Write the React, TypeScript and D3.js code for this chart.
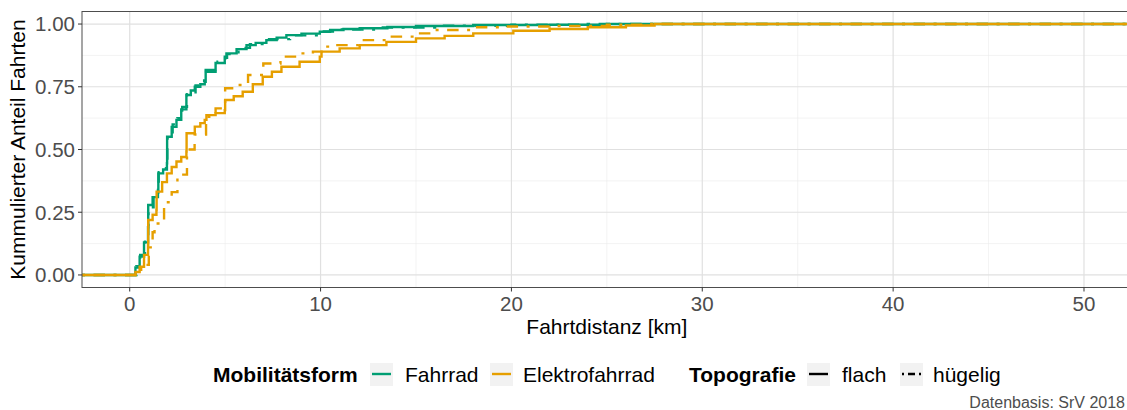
import * as d3 from 'd3';

// Kumulierte Verteilung (ECDF) der Fahrtdistanzen
const fahrradFlachKm = [0.09, 0.3, 0.52, 0.75, 0.96, 0.97, 1.2, 1.48, 1.5, 1.75, 1.95, 1.96, 2.2, 2.45, 2.7, 2.97, 3.2, 3.41, 3.7, 3.93, 3.98, 4.5, 4.98, 5.07, 5.6, 6.12, 6.6, 7.16, 7.7, 8.21, 9.0, 9.96, 10.5, 11.2, 12.05, 13.5, 15, 18, 22, 25];
const fahrradFlachAnteil = [0, 0.03, 0.073, 0.13, 0.19, 0.279, 0.31, 0.339, 0.405, 0.42, 0.445, 0.551, 0.59, 0.618, 0.66, 0.717, 0.735, 0.75, 0.76, 0.77, 0.817, 0.845, 0.87, 0.883, 0.9, 0.916, 0.925, 0.936, 0.946, 0.956, 0.962, 0.969, 0.976, 0.98, 0.983, 0.988, 0.992, 0.996, 0.997, 1];

const fahrradHuegeligKm = [0.1, 0.35, 0.55, 0.8, 0.97, 0.98, 1.25, 1.5, 1.52, 1.9, 1.97, 2.25, 2.5, 2.75, 3.0, 3.45, 3.9, 4.0, 4.6, 5.0, 5.1, 5.7, 6.3, 7.3, 8.4, 10.0, 11, 13, 16, 20, 24];
const fahrradHuegeligAnteil = [0, 0.035, 0.08, 0.14, 0.2, 0.27, 0.32, 0.35, 0.41, 0.45, 0.545, 0.6, 0.625, 0.67, 0.72, 0.755, 0.775, 0.81, 0.85, 0.865, 0.88, 0.905, 0.92, 0.94, 0.955, 0.97, 0.978, 0.986, 0.993, 0.997, 1];

const eFahrradFlachKm = [0.09, 0.3, 0.52, 0.75, 0.96, 0.97, 1.2, 1.4, 1.41, 1.7, 1.95, 2.2, 2.45, 2.7, 2.97, 2.98, 3.41, 3.7, 3.93, 4.02, 4.5, 4.98, 5.0, 5.45, 5.92, 6.45, 6.97, 7.45, 7.95, 8.9, 9.96, 10.05, 11, 12.05, 13.45, 15, 16.5, 18, 20.1, 22, 24, 26, 27.5];
const eFahrradFlachAnteil = [0, 0.012, 0.033, 0.08, 0.12, 0.219, 0.24, 0.259, 0.332, 0.37, 0.405, 0.43, 0.452, 0.47, 0.492, 0.565, 0.591, 0.605, 0.618, 0.637, 0.645, 0.657, 0.697, 0.712, 0.73, 0.76, 0.79, 0.81, 0.83, 0.85, 0.87, 0.89, 0.903, 0.916, 0.929, 0.943, 0.953, 0.963, 0.973, 0.98, 0.987, 0.994, 1];

const eFahrradHuegeligKm = [0.12, 0.6, 1.0, 1.2, 1.3, 1.75, 1.8, 2.2, 2.5, 3.0, 3.4, 4.0, 4.5, 4.95, 5.0, 5.5, 6.2, 7.0, 7.9, 8.9, 9.6, 10.05, 10.6, 12, 13.5, 15, 16, 18, 19.5, 22, 25, 27];
const eFahrradHuegeligAnteil = [0, 0.04, 0.11, 0.17, 0.205, 0.215, 0.29, 0.33, 0.4, 0.5, 0.56, 0.63, 0.664, 0.684, 0.744, 0.757, 0.797, 0.843, 0.87, 0.883, 0.89, 0.91, 0.916, 0.936, 0.95, 0.963, 0.976, 0.987, 0.99, 0.992, 0.997, 1];

const xTicks = [0, 10, 20, 30, 40, 50];
const yTicks = [0, 0.25, 0.5, 0.75, 1];

const farbe = { Fahrrad: '#009E73', Elektrofahrrad: '#E69F00' };
const dotdash = '3,8.5,11.5,8.5';

const series = [
  { form: 'Fahrrad', topo: 'flach', km: fahrradFlachKm, anteil: fahrradFlachAnteil },
  { form: 'Fahrrad', topo: 'hügelig', km: fahrradHuegeligKm, anteil: fahrradHuegeligAnteil },
  { form: 'Elektrofahrrad', topo: 'flach', km: eFahrradFlachKm, anteil: eFahrradFlachAnteil },
  { form: 'Elektrofahrrad', topo: 'hügelig', km: eFahrradHuegeligKm, anteil: eFahrradHuegeligAnteil },
];

export default function App() {
  const width = 1140;
  const height = 410;
  const margin = { top: 11.5, left: 82, right: 8.3, bottom: 122.5 };
  const x0 = margin.left, x1 = width - margin.right;
  const y0 = height - margin.bottom, y1 = margin.top;

  const x = d3.scaleLinear().domain([-2.5, 52.5]).range([x0, x1]);
  const y = d3.scaleLinear().domain([-0.05, 1.05]).range([y0, y1]);

  const line = d3.line<[number, number]>()
    .x(d => x(d[0]))
    .y(d => y(d[1]))
    .curve(d3.curveStepAfter);

  const paths = series.map(s => {
    const pts: [number, number][] = [[-2.5, 0]];
    s.km.forEach((k, i) => pts.push([k, s.anteil[i]]));
    pts.push([52.5, 1]);
    return { ...s, d: line(pts) || '' };
  });

  const minorX = d3.range(-5, 60, 10).filter(v => v > -2.5 && v < 52.5);
  const minorY = [0.125, 0.375, 0.625, 0.875];
  const font = 'Liberation Sans, Arial, sans-serif';
  const legendY = 374;
  const fs = 21;

  const keys = [
    { x: 370, label: 'Fahrrad', lx: 405, color: farbe.Fahrrad, dash: undefined as string | undefined },
    { x: 490, label: 'Elektrofahrrad', lx: 523, color: farbe.Elektrofahrrad, dash: undefined },
    { x: 807, label: 'flach', lx: 842, color: '#000', dash: undefined },
    { x: 900, label: 'hügelig', lx: 933, color: '#000', dash: '2,4,7,4' },
  ];

  return (
    <svg width={width} height={height}
      style={{ position: 'absolute', left: 0, top: 0, background: '#fff', fontFamily: font }}>
      <defs>
        <clipPath id="panel">
          <rect x={x0} y={y1} width={x1 - x0} height={y0 - y1} />
        </clipPath>
      </defs>
      {/* grid */}
      {minorX.map(v => <line key={'mx' + v} x1={x(v)} x2={x(v)} y1={y1} y2={y0} stroke="#ebebeb" strokeWidth={0.6} />)}
      {minorY.map(v => <line key={'my' + v} x1={x0} x2={x1} y1={y(v)} y2={y(v)} stroke="#ebebeb" strokeWidth={0.6} />)}
      {xTicks.map(v => <line key={'gx' + v} x1={x(v)} x2={x(v)} y1={y1} y2={y0} stroke="#e0e0e0" strokeWidth={1.2} />)}
      {yTicks.map(v => <line key={'gy' + v} x1={x0} x2={x1} y1={y(v)} y2={y(v)} stroke="#e0e0e0" strokeWidth={1.2} />)}

      <g clipPath="url(#panel)">
        {paths.map(p => (
          <path key={p.form + p.topo} d={p.d} fill="none" stroke={farbe[p.form as keyof typeof farbe]}
            strokeWidth={2.4} strokeDasharray={p.topo === 'hügelig' ? dotdash : undefined} />
        ))}
      </g>

      <rect x={x0} y={y1} width={x1 - x0} height={y0 - y1} fill="none" stroke="#4d4d4d" strokeWidth={1} />

      {/* axes */}
      {xTicks.map(v => (
        <g key={'tx' + v}>
          <line x1={x(v)} x2={x(v)} y1={y0} y2={y0 + 4} stroke="#333" strokeWidth={1} />
          <text x={x(v)} y={y0 + 23} textAnchor="middle" fontSize={20.5} fill="#4d4d4d">{v}</text>
        </g>
      ))}
      {yTicks.map(v => (
        <g key={'ty' + v}>
          <line x1={x0 - 4} x2={x0} y1={y(v)} y2={y(v)} stroke="#333" strokeWidth={1} />
          <text x={x0 - 7} y={y(v) + 7.3} textAnchor="end" fontSize={20.5} fill="#4d4d4d">{d3.format('.2f')(v)}</text>
        </g>
      ))}
      <text x={(x0 + x1) / 2} y={334} textAnchor="middle" fontSize={fs} fill="#000">Fahrtdistanz [km]</text>
      <text transform={`translate(25, ${(y0 + y1) / 2}) rotate(-90)`} textAnchor="middle" fontSize={fs} fill="#000">Kummulierter Anteil Fahrten</text>

      {/* legend */}
      <text x={213} y={legendY + 7.5} fontSize={fs} fontWeight="bold" fill="#000">Mobilitätsform</text>
      <text x={689} y={legendY + 7.5} fontSize={fs} fontWeight="bold" fill="#000">Topografie</text>
      {keys.map(k => (
        <g key={k.label}>
          <rect x={k.x} y={legendY - 11} width={23} height={23} fill="#f2f2f2" />
          <line x1={k.x + 2} x2={k.x + 21} y1={legendY} y2={legendY} stroke={k.color} strokeWidth={2.4} strokeDasharray={k.dash} />
          <text x={k.lx} y={legendY + 7.5} fontSize={fs} fill="#000">{k.label}</text>
        </g>
      ))}

      <text x={1125} y={408} textAnchor="end" fontSize={16} fill="#4d4d4d">Datenbasis: SrV 2018</text>
    </svg>
  );
}
